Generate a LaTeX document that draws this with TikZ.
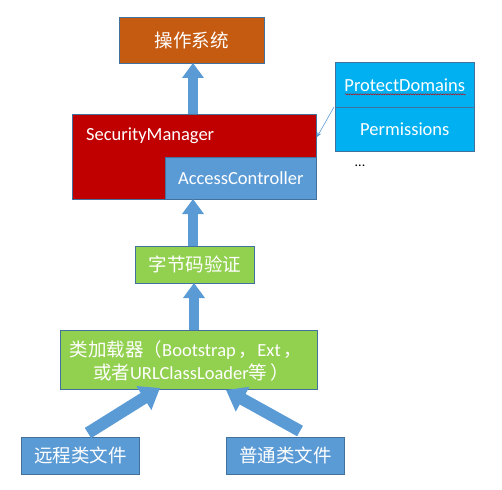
\documentclass[tikz,border=0pt]{standalone}
\usepackage{fontspec}
\setmainfont{Carlito}
\newfontfamily\cjk{Noto Sans CJK SC}
\usetikzlibrary{arrows.meta,decorations.pathmorphing}
\definecolor{osorange}{HTML}{C55A11}
\definecolor{smred}{HTML}{C00000}
\definecolor{acblue}{HTML}{5B9BD5}
\definecolor{pdcyan}{HTML}{00B0F0}
\definecolor{gr}{HTML}{92D050}
\definecolor{edge}{HTML}{41719C}
\tikzset{
  box/.style={draw=edge, line width=0.6bp, text=white, inner sep=0pt, anchor=north west, font=\fontsize{18.5bp}{22bp}\selectfont},
  blockarrow/.style={draw=acblue, line width=10bp, -{Triangle[width=21bp,length=15bp]}},
  bigarrow/.style={draw=acblue, line width=12bp, -{Triangle[width=27bp,length=19bp]}},
  txt/.style={text=white, inner sep=0pt, font=\fontsize{18.5bp}{22bp}\selectfont}
}
\begin{document}
\begin{tikzpicture}[x=1bp,y=-1bp]
\useasboundingbox (0,0) rectangle (502,490);
% top: OS
\node[box, fill=osorange, minimum width=145bp, minimum height=46bp] (os) at (119,17) {\cjk 操作系统};
% security manager
\node[box, fill=smred, minimum width=244bp, minimum height=85bp] (sm) at (72,114) {};
\node[txt, anchor=west] (smt) at (86,136) {SecurityManager};
\node[box, fill=acblue, minimum width=151bp, minimum height=42bp] (ac) at (165,157) {AccessController};
% protect domains
\node[box, fill=pdcyan, minimum width=139bp, minimum height=45bp] (pd) at (335,62) {ProtectDomains};
\node[box, fill=pdcyan, minimum width=139bp, minimum height=44bp] (perm) at (335,107) {Permissions};
\draw[red!80!black, line width=0.4bp, decorate, decoration={snake, amplitude=0.6bp, segment length=2.5bp}] ([xshift=-60bp,yshift=-9.5bp]pd.center) -- ([xshift=61bp,yshift=-9.5bp]pd.center);
\node[inner sep=0pt, font=\fontsize{14bp}{16bp}\selectfont] (dots) at (360,166) {...};
\coordinate (pdl) at (334,107);
\coordinate (smr) at (317,137);
\draw[acblue, line width=0.6bp, -{Stealth[length=5bp,width=4bp]}] (pdl) -- (smr);
% bytecode verify
\node[box, fill=gr, minimum width=119bp, minimum height=37bp] (bv) at (135,246) {\cjk 字节码验证};
% class loader
\node[box, fill=gr, minimum width=257bp, minimum height=59bp] (cl) at (60,330) {};
\node[txt] (cl1) at (186,350) {{\cjk 类加载器（}Bootstrap\,{\cjk ，}Ext\,{\cjk ，}};
\node[txt] (cl2) at (191,372) {{\cjk 或者}URLClassLoader{\cjk 等}\,{\cjk ）}};
% files
\node[box, fill=acblue, minimum width=118bp, minimum height=37bp] (rf) at (21,437) {\cjk 远程类文件};
\node[box, fill=acblue, minimum width=118bp, minimum height=37bp] (nf) at (226,437) {\cjk 普通类文件};
% arrows
\coordinate (a1s) at (193,114);
\coordinate (a1e) at (193,63);
\draw[blockarrow] (a1s) -- (a1e);
\coordinate (a2s) at (193,246);
\coordinate (a2e) at (193,199);
\draw[blockarrow] (a2s) -- (a2e);
\coordinate (a3s) at (194,330);
\coordinate (a3e) at (194,283);
\draw[blockarrow] (a3s) -- (a3e);
\coordinate (a4s) at (88,433);
\coordinate (a4e) at (160,388);
\draw[bigarrow] (a4s) -- (a4e);
\coordinate (a5s) at (300,431);
\coordinate (a5e) at (226,390);
\draw[bigarrow] (a5s) -- (a5e);
\end{tikzpicture}
\end{document}
